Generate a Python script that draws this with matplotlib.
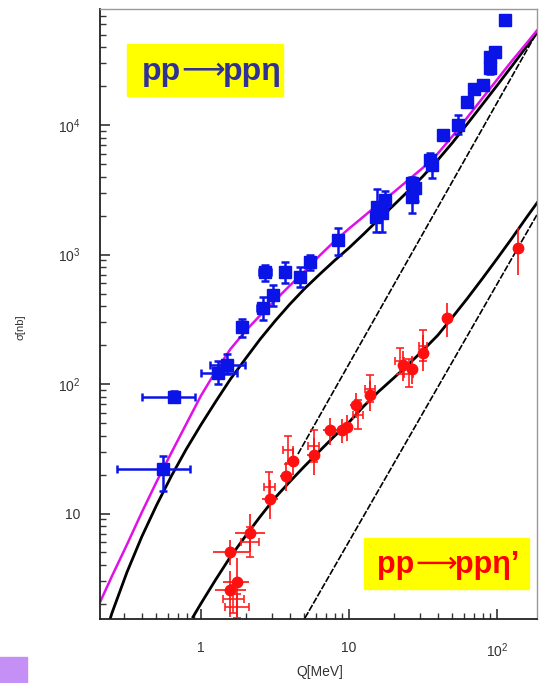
import matplotlib.pyplot as plt
from matplotlib.patches import Rectangle

plt.rcParams['font.family'] = ['Liberation Sans', 'DejaVu Sans']
plt.rcParams['mathtext.fontset'] = 'custom'
plt.rcParams['mathtext.rm'] = 'Liberation Sans'

# pp -> pp eta measurements
eta_q = [0.55, 0.66, 1.30, 1.50, 1.89, 2.62, 3.07, 2.71, 3.70, 4.66, 5.45, 8.4,
         15.5, 16.7, 17.5, 15.3, 26.6, 27.9, 26.6, 35.3, 36.4, 43.2, 54.5, 62.7,
         69.9, 80.4, 89.7, 89.7, 96.9, 113]
eta_sig = [22, 79, 121, 140, 275, 386, 487, 733, 733, 670, 875, 1295,
           2330, 2080, 2630, 1950, 3560, 3250, 2780, 5370, 4870, 8370, 10000, 15060,
           18960, 20400, 27500, 33500, 36600, 64700]
eta_q_lo = [0.27, 0.40, 1.00, 1.15, 1.75, 2.40, 2.85, 2.45, 3.40, 4.30, 5.05, 8.0,
            14.6, 15.9, 16.6, 14.5, 25.3, 26.6, 25.3, 33.8, 35.0, 43.2, 54.5, 62.7,
            69.9, 80.4, 89.7, 89.7, 96.9, 113]
eta_q_hi = [0.84, 0.91, 1.75, 1.98, 2.05, 2.85, 3.30, 2.95, 4.00, 5.00, 5.85, 8.8,
            16.4, 17.5, 18.4, 16.1, 27.9, 29.2, 27.9, 36.8, 37.8, 43.2, 54.5, 62.7,
            69.9, 80.4, 89.7, 89.7, 96.9, 113]
eta_sig_lo = [15, 72, 100, 120, 230, 310, 400, 620, 600, 560, 760, 1000,
              1900, 1500, 2200, 1500, 3100, 2600, 2100, 4700, 3900, 7800, 8600, 14000,
              17800, 19200, 25000, 31000, 34000, 61000]
eta_sig_hi = [28, 88, 150, 170, 320, 470, 580, 830, 880, 800, 1000, 1600,
              3200, 2500, 3100, 2400, 4000, 3600, 3300, 6100, 5600, 9000, 12000, 16200,
              20200, 21600, 30000, 36000, 39000, 68000]

# pp -> pp eta' measurements
etap_q = [1.57, 1.75, 1.57, 2.14, 2.93, 3.75, 4.19, 5.80, 7.45, 9.0, 9.7, 11.1,
          13.9, 23.2, 26.6, 31.6, 45.9, 139]
etap_sig = [5.05, 2.96, 2.57, 7.07, 12.9, 19.5, 25.4, 28.3, 44.2, 44.0, 46.6, 68.9,
            82.2, 140, 131, 174, 323, 1123]
etap_q_lo = [1.20, 1.40, 1.25, 1.70, 2.60, 3.40, 3.80, 5.20, 6.70, 8.2, 8.9, 10.2,
             12.8, 21.5, 24.8, 29.6, 45.9, 139]
etap_q_hi = [2.10, 2.10, 2.00, 2.70, 3.30, 4.10, 4.60, 6.40, 8.20, 9.8, 10.6, 12.1,
             15.0, 25.0, 28.4, 33.6, 45.9, 139]
etap_sig_lo = [4.0, 1.6, 1.6, 5.0, 9.0, 15, 20, 20, 34, 35, 36, 55,
               62, 105, 100, 125, 230, 700]
etap_sig_hi = [6.2, 4.5, 3.6, 10.0, 18, 25, 32, 38, 55, 54, 58, 85,
               105, 180, 165, 240, 420, 1600]

# extra eta' points shown as bare crosses
etap2_q = [1.75, 1.65, 2.14, 2.90, 3.9, 5.8, 11.5, 13.9, 22.0, 25.3, 31.6]
etap2_sig = [1.9, 2.2, 6.0, 16.0, 31, 33, 58, 92, 150, 120, 195]
etap2_q_lo = [1.45, 1.40, 1.85, 2.65, 3.6, 5.3, 10.6, 12.9, 20.5, 23.6, 29.7]
etap2_q_hi = [2.10, 1.95, 2.45, 3.15, 4.2, 6.3, 12.4, 14.9, 23.5, 27.0, 33.5]
etap2_sig_lo = [1.55, 1.7, 4.6, 12.5, 24, 25, 45, 72, 120, 95, 150]
etap2_sig_hi = [2.4, 2.8, 7.8, 21, 40, 44, 75, 118, 190, 155, 260]

# model curves (with final state interaction)
eta_fsi_q = [0.243, 0.251, 0.316, 0.398, 0.501, 0.631, 0.794, 1.0, 1.26, 1.58,
             2.0, 2.51, 3.16, 3.98, 5.01, 6.31, 7.94, 10, 12.6, 15.8,
             20, 25.1, 31.6, 39.8, 50.1, 63.1, 79.4, 100, 126, 158, 186]
eta_fsi_sig = [1.53, 1.72, 3.52, 6.62, 11.6, 19.5, 31.3, 48.5, 73.5, 109,
               157, 222, 306, 413, 545, 701, 893, 1125, 1445, 1862,
               2399, 3090, 4027, 5370, 7328, 10230, 14350, 20180, 28510, 40270, 51290]
eta_full_q = [0.208, 0.251, 0.316, 0.398, 0.501, 0.631, 0.794, 1.0, 1.26, 1.58,
              2.0, 2.51, 3.16, 3.98, 5.01, 6.31, 7.94, 10, 12.6, 15.8,
              20, 25.1, 31.6, 39.8, 50.1, 63.1, 79.4, 100, 126, 158, 186]
eta_full_sig = [2.07, 3.31, 5.75, 10.2, 17.6, 29.5, 49.0, 81.3, 126, 186,
                257, 339, 442, 575, 741, 977, 1259, 1585, 1972, 2455,
                3020, 3758, 4677, 6026, 8222, 11480, 16030, 22390, 31260, 42660, 53700]
etap_fsi_q = [0.883, 1.0, 1.26, 1.58, 2.0, 2.51, 3.16, 3.98, 5.01, 6.31,
              7.94, 10, 12.6, 15.8, 20, 25.1, 31.6, 39.8, 50.1, 63.1,
              79.4, 100, 126, 158, 189]
etap_fsi_sig = [1.59, 2.02, 3.10, 4.63, 6.70, 9.46, 13.2, 17.6, 23.2, 30.3,
                39.4, 50.7, 67.6, 87.1, 111, 141, 182, 238, 329, 459,
                649, 927, 1334, 1928, 2559]

# pure phase space
eta_ps_q = [4.52, 180]
eta_ps_sig = [28.8, 48600]
etap_ps_q = [5.04, 189]
etap_ps_sig = [1.56, 2089]

fig = plt.figure(figsize=(5.39, 6.83), dpi=100)
ax = fig.add_axes([0.1855, 0.0937, 0.8108, 0.8931])

ax.plot(eta_ps_q, eta_ps_sig, color='black', lw=1.2, dashes=(4, 1))
ax.plot(etap_ps_q, etap_ps_sig, color='black', lw=1.2, dashes=(4, 1))
ax.plot(eta_fsi_q, eta_fsi_sig, color='black', lw=2)
ax.plot(etap_fsi_q, etap_fsi_sig, color='black', lw=2)
ax.plot(eta_full_q, eta_full_sig, color='#e010e8', lw=1.8)

ax.errorbar(eta_q, eta_sig,
            xerr=[[q - lo for q, lo in zip(eta_q, eta_q_lo)], [hi - q for q, hi in zip(eta_q, eta_q_hi)]],
            yerr=[[s - lo for s, lo in zip(eta_sig, eta_sig_lo)], [hi - s for s, hi in zip(eta_sig, eta_sig_hi)]],
            fmt='s', color='#0a14e6', ms=8.5, elinewidth=1.8, capsize=3, capthick=1.8)
ax.errorbar(etap2_q, etap2_sig,
            xerr=[[q - lo for q, lo in zip(etap2_q, etap2_q_lo)], [hi - q for q, hi in zip(etap2_q, etap2_q_hi)]],
            yerr=[[s - lo for s, lo in zip(etap2_sig, etap2_sig_lo)], [hi - s for s, hi in zip(etap2_sig, etap2_sig_hi)]],
            fmt='none', ecolor='#ff2020', elinewidth=1.2, capsize=3, capthick=1.2)
ax.errorbar(etap_q, etap_sig,
            xerr=[[q - lo for q, lo in zip(etap_q, etap_q_lo)], [hi - q for q, hi in zip(etap_q, etap_q_hi)]],
            yerr=[[s - lo for s, lo in zip(etap_sig, etap_sig_lo)], [hi - s for s, hi in zip(etap_sig, etap_sig_hi)]],
            fmt='o', color='#ff1010', ms=7.5, elinewidth=1.2, capsize=0)

ax.set_xscale('log')
ax.set_yscale('log')
ax.set_xlim(0.2077, 186.3)
ax.set_ylim(1.532, 78700)

ax.set_xticks([1, 10, 100])
ax.set_xticklabels(['1', '10', '10$^{2}$'])
ax.set_yticks([10, 100, 1000, 10000])
ax.set_yticklabels(['10', '10$^{2}$', '10$^{3}$', '10$^{4}$'])
ax.tick_params(which='both', direction='in', colors='#333333', labelsize=10)
ax.tick_params(axis='x', which='major', length=7, width=1.2, pad=16)
ax.tick_params(axis='y', which='major', length=7, width=1.2, pad=14)
ax.tick_params(which='minor', length=4, width=1.0)
for side in ['left', 'bottom']:
    ax.spines[side].set_color('#222222')
    ax.spines[side].set_linewidth(1.3)
for side in ['top', 'right']:
    ax.spines[side].set_color('#999999')
    ax.spines[side].set_linewidth(1.0)

fig.text(0.5937, 1 - 672 / 683, 'Q[MeV]', ha='center', va='center', fontsize=10, color='#333333')
fig.text(20 / 539, 1 - 327 / 683, 'σ[nb]', ha='center', va='center', rotation=90,
         fontsize=8, color='#333333')

# reaction labels: yellow boxes, with a long thin arrow between the words
fig.patches.append(Rectangle((127 / 539, 1 - 96 / 683), 156 / 539, 52 / 683,
                             transform=fig.transFigure, color='#ffff00', zorder=5))
fig.text(142 / 539, 1 - 72 / 683, 'pp', ha='left', va='center', fontsize=23,
         fontweight='bold', color='#30309a', zorder=6)
fig.text(203 / 539, 1 - 71 / 683, '⟶', ha='center', va='center', fontsize=22,
         family='DejaVu Sans', color='#30309a', zorder=6)
fig.text(223 / 539, 1 - 72 / 683, 'ppη', ha='left', va='center', fontsize=23,
         fontweight='bold', color='#30309a', zorder=6)
fig.patches.append(Rectangle((364 / 539, 1 - 589 / 683), 165 / 539, 51 / 683,
                             transform=fig.transFigure, color='#ffff00', zorder=5))
fig.text(377 / 539, 1 - 565 / 683, 'pp', ha='left', va='center', fontsize=22,
         fontweight='bold', color='#ff0000', zorder=6)
fig.text(436 / 539, 1 - 564 / 683, '⟶', ha='center', va='center', fontsize=21,
         family='DejaVu Sans', color='#ff0000', zorder=6)
fig.text(455 / 539, 1 - 565 / 683, 'ppη’', ha='left', va='center', fontsize=22,
         fontweight='bold', color='#ff0000', zorder=6)
fig.patches.append(Rectangle((0, 0), 27 / 539, 26 / 683,
                             transform=fig.transFigure, color='#c490f5', zorder=5))

plt.savefig('out.png', dpi=100)
